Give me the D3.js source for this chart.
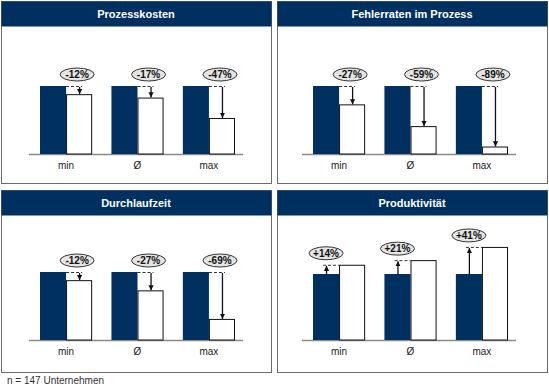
<!DOCTYPE html>
<html>
<head>
<meta charset="utf-8">
<script src="https://cdn.jsdelivr.net/npm/d3@7"></script>
<style>
  body { margin: 0; background: #fff; }
  svg { display: block; font-family: "Liberation Sans", Arial, sans-serif; }
</style>
</head>
<body>
<script>
// data
const categories = ["min", "Ø", "max"];
const titles = ["Prozesskosten", "Fehlerraten im Prozess", "Durchlaufzeit", "Produktivität"];
const prozesskosten = [-12, -17, -47];
const fehlerraten = [-27, -59, -89];
const durchlaufzeit = [-12, -27, -69];
const produktivitaet = [14, 21, 41];
const footnote = "n = 147 Unternehmen";

const series = [prozesskosten, fehlerraten, durchlaufzeit, produktivitaet];

const config = {
  navy: "#00305f",
  panelW: 270,
  panelH: 182,
  header: 25,
  colLeft: [1, 277],
  barStart: [39, 36],
  rowTop: [1, 190],
  base: [153, 150],
};

const svg = d3.select("body").append("svg").attr("width", 549).attr("height", 389);

svg.append("defs").append("marker")
  .attr("id", "arr")
  .attr("viewBox", "0 0 10 10")
  .attr("refX", 10).attr("refY", 5)
  .attr("markerWidth", 4).attr("markerHeight", 4)
  .attr("markerUnits", "strokeWidth")
  .attr("orient", "auto")
  .append("path").attr("d", "M0,0L10,5L0,10Z").attr("fill", "#111");

titles.forEach((title, i) => {
  const col = i % 2;
  const row = Math.floor(i / 2);
  const left = config.colLeft[col];
  const top = config.rowTop[row];
  const base = config.base[row];
  const g = svg.append("g").attr("transform", `translate(${left},${top})`);
  const vals = series[i];
  const up = vals[0] > 0;

  g.append("rect")
    .attr("x", 0.5).attr("y", 0.5)
    .attr("width", config.panelW).attr("height", config.panelH)
    .attr("fill", "#fff").attr("stroke", "#6b6b6b");
  g.append("rect")
    .attr("x", 0.5).attr("y", 0.5)
    .attr("width", config.panelW).attr("height", config.header)
    .attr("fill", config.navy);
  g.append("text")
    .attr("x", config.panelW / 2).attr("y", 17)
    .attr("text-anchor", "middle")
    .attr("fill", "#fff").attr("font-size", 11).attr("font-weight", "bold")
    .text(title);

  const x0 = config.barStart[col];
  const x = d3.scaleBand()
    .domain(categories)
    .range([x0, x0 + 195])
    .paddingInner(0.27)
    .paddingOuter(0);
  const bw = x.bandwidth() / 2;

  // reference value is 100 %
  const y = d3.scaleLinear()
    .domain([0, 100])
    .range([base, base - (up ? 66 : 68)]);

  g.append("line")
    .attr("x1", x0 - 11).attr("x2", x0 + 203)
    .attr("y1", base + 0.5).attr("y2", base + 0.5)
    .attr("stroke", "#8a8a8a").attr("stroke-width", 1.5);

  const grp = g.selectAll("g.grp")
    .data(categories.map((c, j) => ({ c, v: vals[j] })))
    .join("g").classed("grp", true)
    .attr("transform", (d) => `translate(${x(d.c)},0)`);

  grp.append("rect")
    .attr("x", 0).attr("width", bw)
    .attr("y", y(100)).attr("height", base - y(100))
    .attr("fill", config.navy);
  grp.append("rect")
    .attr("x", bw + 0.5).attr("width", bw - 1)
    .attr("y", (d) => y(100 + d.v) + 0.5)
    .attr("height", (d) => base - y(100 + d.v) - 0.5)
    .attr("fill", "#fff").attr("stroke", "#111");

  const ax = up ? bw / 2 : bw * 1.5;
  const hi = (d) => y(up ? 100 + d.v : 100);
  const lo = (d) => y(up ? 100 : 100 + d.v);

  // dashed guide at the higher level
  grp.append("line")
    .attr("x1", up ? ax - 3 : bw).attr("x2", up ? bw : ax + 3)
    .attr("y1", (d) => hi(d) + 0.5).attr("y2", (d) => hi(d) + 0.5)
    .attr("stroke", "#333").attr("stroke-dasharray", "3,2");

  grp.append("line")
    .attr("x1", ax + 0.5).attr("x2", ax + 0.5)
    .attr("y1", (d) => up ? lo(d) : hi(d) + 1)
    .attr("y2", (d) => up ? hi(d) + 1 : lo(d))
    .attr("stroke", "#111").attr("stroke-width", 1.3)
    .attr("marker-end", "url(#arr)");

  const lx = up ? ax : ax - 2;
  grp.append("ellipse")
    .attr("cx", lx).attr("cy", (d) => hi(d) - 11.5)
    .attr("rx", 17).attr("ry", 6.5)
    .attr("fill", "#e4e4e4").attr("stroke", "#333");
  grp.append("text")
    .attr("x", lx).attr("y", (d) => hi(d) - 8)
    .attr("text-anchor", "middle")
    .attr("font-size", 10).attr("font-weight", "bold").attr("fill", "#111")
    .text((d) => (d.v > 0 ? "+" : "") + d.v + "%");

  grp.append("text")
    .attr("x", bw).attr("y", base + 15)
    .attr("text-anchor", "middle")
    .attr("font-size", 10).attr("fill", "#222")
    .text((d) => d.c);
});

svg.append("text")
  .attr("x", 7).attr("y", 384)
  .attr("font-size", 10).attr("fill", "#333")
  .text(footnote);
</script>
</body>
</html>
